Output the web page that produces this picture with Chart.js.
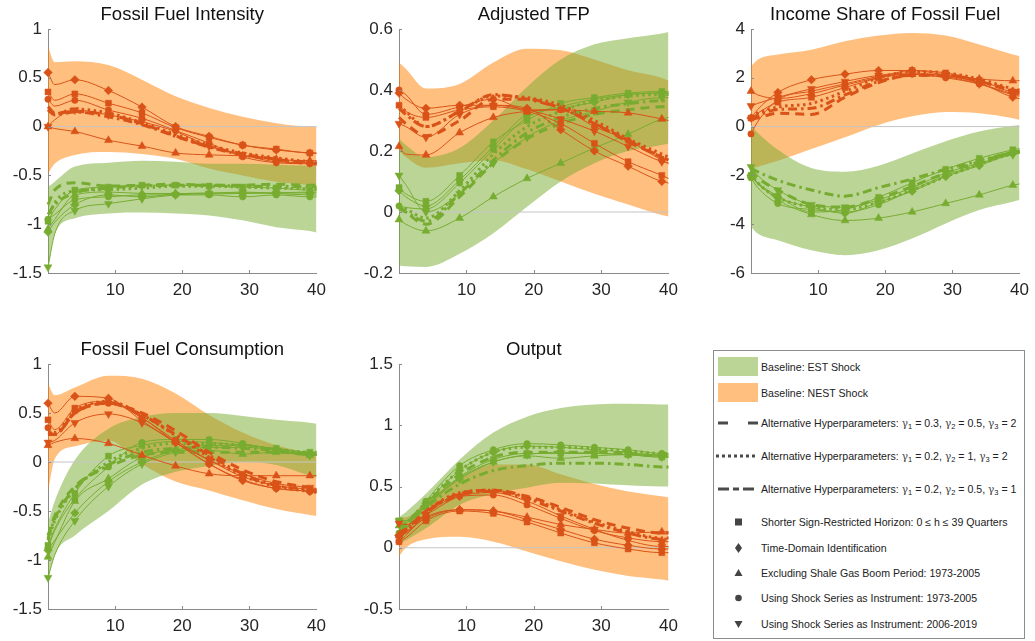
<!DOCTYPE html>
<html>
<head>
<meta charset="utf-8">
<script src="https://cdn.jsdelivr.net/npm/chart.js@4.4.0/dist/chart.umd.min.js"></script>
<style>
  html, body { margin: 0; padding: 0; background: #fff; overflow: hidden; }
  body { width: 1035px; height: 641px; position: relative; font-family: "Liberation Sans", Arial, Helvetica, sans-serif; }
  .panel { position: absolute; }
  #legend { position: absolute; left: 713px; top: 350px; width: 310px; height: 287px; border: 1px solid #8c8c8c; background: #fff; }
  #legend svg { position: absolute; left: 0; top: 0; }
  #legend span { position: absolute; left: 47px; font-size: 10.6px; line-height: 14px; color: #222; white-space: nowrap; }
  #legend sub { font-size: 7.5px; vertical-align: -2px; line-height: 0; }
  #legend i { font-style: normal; font-family: "DejaVu Serif", serif; font-size: 10.5px; color: #444; }
</style>
</head>
<body>

<div class="panel" id="p0"><canvas id="c0"></canvas></div>
<div class="panel" id="p1"><canvas id="c1"></canvas></div>
<div class="panel" id="p2"><canvas id="c2"></canvas></div>
<div class="panel" id="p3"><canvas id="c3"></canvas></div>
<div class="panel" id="p4"><canvas id="c4"></canvas></div>

<div id="legend">
  <svg width="310" height="287">
    <rect x="4" y="6" width="40" height="19" fill="rgba(119,172,48,0.5)"/>
    <rect x="4" y="32" width="40" height="19" fill="rgba(255,127,0,0.5)"/>
    <line x1="4" y1="72" x2="44" y2="72" stroke="#4a4a4a" stroke-width="3" stroke-dasharray="10 20"/>
    <line x1="2" y1="105" x2="44" y2="105" stroke="#4a4a4a" stroke-width="3" stroke-dasharray="3 3"/>
    <line x1="4" y1="138" x2="44" y2="138" stroke="#4a4a4a" stroke-width="3" stroke-dasharray="11 4 6 4"/>
    <rect x="21" y="167.5" width="7" height="7" fill="#444"/>
    <polygon points="24.5,192 28,197 24.5,202 21,197" fill="#444"/>
    <polygon points="24.5,218 28.5,225 20.5,225" fill="#444"/>
    <circle cx="24.5" cy="247" r="3.3" fill="#444"/>
    <polygon points="20.5,270 28.5,270 24.5,277" fill="#444"/>
  </svg>
  <span style="top:9px">Baseline: EST Shock</span>
  <span style="top:35px">Baseline: NEST Shock</span>
  <span style="top:65px">Alternative Hyperparameters: <i>γ</i><sub>1</sub> = 0.3, <i>γ</i><sub>2</sub> = 0.5, <i>γ</i><sub>3</sub> = 2</span>
  <span style="top:98px">Alternative Hyperparameters: <i>γ</i><sub>1</sub> = 0.2, <i>γ</i><sub>2</sub> = 1, <i>γ</i><sub>3</sub> = 2</span>
  <span style="top:131px">Alternative Hyperparameters: <i>γ</i><sub>1</sub> = 0.2, <i>γ</i><sub>2</sub> = 0.5, <i>γ</i><sub>3</sub> = 1</span>
  <span style="top:164px">Shorter Sign-Restricted Horizon: 0 ≤ h ≤ 39 Quarters</span>
  <span style="top:190px">Time-Domain Identification</span>
  <span style="top:215px">Excluding Shale Gas Boom Period: 1973-2005</span>
  <span style="top:240px">Using Shock Series as Instrument: 1973-2005</span>
  <span style="top:266px">Using Shock Series as Instrument: 2006-2019</span>
</div>

<script>
// horizons (quarters) where values were read; markers sit on every one but 1 and 40
var XS = [0, 1, 4, 9, 14, 19, 24, 29, 34, 39, 40];
var MARKER_X = [0, 4, 9, 14, 19, 24, 29, 34, 39];

var TITLES = ['Fossil Fuel Intensity', 'Adjusted TFP', 'Income Share of Fossil Fuel', 'Fossil Fuel Consumption', 'Output'];
var Y_MIN = [-1.5, -0.2, -6, -1.5, -0.5];
var Y_MAX = [1, 0.6, 4, 1, 1.5];
var Y_STEP = [0.5, 0.2, 2, 0.5, 0.5];
var X_TICKS = [10, 20, 30, 40];

// line order in every panel: dashed, dotted, dash-dot, square, diamond, triangle, circle, triangle-down

// Fossil Fuel Intensity
var intensityNestBand = [
  [-0.48, -0.38, -0.29, -0.26, -0.28, -0.33, -0.43, -0.50, -0.565, -0.60, -0.61],
  [0.82, 0.66, 0.67, 0.63, 0.48, 0.31, 0.19, 0.10, 0.035, 0.0, 0.0]
];
var intensityEstBand = [
  [-1.44, -1.10, -0.94, -0.89, -0.88, -0.89, -0.91, -0.96, -1.03, -1.07, -1.085],
  [-0.62, -0.565, -0.41, -0.37, -0.35, -0.36, -0.38, -0.38, -0.39, -0.40, -0.40]
];
var intensityNest = [
  [0.205, 0.14, 0.155, 0.12, 0.03, -0.095, -0.205, -0.28, -0.335, -0.375, -0.38],
  [0.18, 0.13, 0.18, 0.14, 0.04, -0.08, -0.19, -0.27, -0.32, -0.36, -0.365],
  [0.17, 0.12, 0.15, 0.10, 0.02, -0.10, -0.21, -0.29, -0.34, -0.38, -0.385],
  [0.355, 0.27, 0.335, 0.24, 0.14, -0.01, -0.11, -0.19, -0.23, -0.27, -0.27],
  [0.555, 0.43, 0.48, 0.37, 0.20, 0.0, -0.10, -0.19, -0.24, -0.27, -0.275],
  [0.0, -0.02, -0.05, -0.14, -0.20, -0.27, -0.29, -0.30, -0.335, -0.35, -0.35],
  [0.28, 0.21, 0.27, 0.17, 0.085, -0.04, -0.17, -0.31, -0.37, -0.38, -0.38],
  [0.0, 0.07, 0.17, 0.12, 0.05, -0.05, -0.20, -0.29, -0.36, -0.37, -0.37]
];
var intensityEst = [
  [-0.80, -0.65, -0.575, -0.61, -0.60, -0.59, -0.60, -0.60, -0.59, -0.60, -0.60],
  [-0.95, -0.78, -0.66, -0.645, -0.63, -0.61, -0.61, -0.62, -0.63, -0.64, -0.645],
  [-0.90, -0.80, -0.68, -0.63, -0.61, -0.60, -0.60, -0.61, -0.61, -0.62, -0.62],
  [-0.97, -0.85, -0.65, -0.62, -0.60, -0.60, -0.61, -0.62, -0.63, -0.65, -0.65],
  [-1.08, -0.98, -0.80, -0.70, -0.72, -0.69, -0.68, -0.68, -0.68, -0.68, -0.68],
  [-1.05, -0.95, -0.70, -0.67, -0.685, -0.685, -0.69, -0.685, -0.68, -0.67, -0.67],
  [-0.95, -0.90, -0.75, -0.72, -0.70, -0.70, -0.70, -0.72, -0.70, -0.72, -0.72],
  [-1.44, -1.10, -0.86, -0.79, -0.74, -0.70, -0.685, -0.67, -0.685, -0.70, -0.70]
];

// Adjusted TFP
var tfpNestBand = [
  [0.20, 0.18, 0.145, 0.16, 0.17, 0.14, 0.10, 0.06, 0.025, -0.01, -0.015],
  [0.49, 0.47, 0.405, 0.42, 0.49, 0.535, 0.53, 0.50, 0.465, 0.44, 0.43]
];
var tfpEstBand = [
  [-0.175, -0.178, -0.18, -0.137, -0.07, 0.017, 0.10, 0.16, 0.20, 0.22, 0.225],
  [0.24, 0.22, 0.18, 0.21, 0.30, 0.41, 0.50, 0.55, 0.57, 0.585, 0.59]
];
var tfpNest = [
  [0.31, 0.29, 0.25, 0.30, 0.37, 0.37, 0.34, 0.29, 0.23, 0.18, 0.17],
  [0.35, 0.33, 0.28, 0.33, 0.38, 0.375, 0.35, 0.30, 0.24, 0.19, 0.18],
  [0.34, 0.32, 0.28, 0.33, 0.385, 0.37, 0.34, 0.29, 0.235, 0.18, 0.17],
  [0.35, 0.33, 0.31, 0.335, 0.345, 0.33, 0.29, 0.225, 0.165, 0.12, 0.11],
  [0.39, 0.37, 0.34, 0.35, 0.35, 0.34, 0.27, 0.20, 0.15, 0.10, 0.095],
  [0.215, 0.19, 0.187, 0.26, 0.31, 0.33, 0.335, 0.33, 0.325, 0.305, 0.30],
  [0.40, 0.385, 0.32, 0.345, 0.37, 0.335, 0.335, 0.28, 0.235, 0.17, 0.16],
  [0.29, 0.28, 0.245, 0.32, 0.35, 0.335, 0.305, 0.265, 0.215, 0.165, 0.16]
];
var tfpEst = [
  [0.02, 0.0, -0.04, 0.05, 0.16, 0.24, 0.29, 0.32, 0.335, 0.345, 0.345],
  [0.02, 0.01, -0.02, 0.07, 0.19, 0.28, 0.33, 0.365, 0.38, 0.385, 0.385],
  [0.01, 0.0, -0.03, 0.06, 0.17, 0.26, 0.31, 0.34, 0.355, 0.365, 0.365],
  [0.08, 0.06, 0.035, 0.12, 0.23, 0.30, 0.356, 0.375, 0.39, 0.395, 0.395],
  [0.07, 0.05, 0.02, 0.105, 0.215, 0.32, 0.34, 0.36, 0.385, 0.39, 0.39],
  [-0.025, -0.04, -0.062, -0.02, 0.05, 0.11, 0.16, 0.21, 0.255, 0.305, 0.31],
  [0.02, 0.015, 0.01, 0.095, 0.205, 0.31, 0.345, 0.37, 0.385, 0.39, 0.39],
  [0.12, 0.09, 0.0, 0.06, 0.16, 0.245, 0.30, 0.33, 0.36, 0.375, 0.375]
];

// Income Share of Fossil Fuel
var shareNestBand = [
  [-1.75, -1.65, -1.4, -0.92, -0.44, 0.07, 0.42, 0.6, 0.55, 0.34, 0.27],
  [2.47, 2.74, 2.95, 3.15, 3.5, 3.73, 3.84, 3.73, 3.36, 2.95, 2.88]
];
var shareEstBand = [
  [-4.1, -4.38, -4.66, -5.07, -5.27, -5.07, -4.59, -3.97, -3.42, -3.08, -3.01],
  [0.05, -0.25, -0.95, -1.7, -1.85, -1.6, -1.1, -0.6, -0.2, 0.03, 0.07]
];
var shareNest = [
  [0.3, 0.35, 0.55, 0.5, 1.2, 1.8, 2.1, 2.1, 1.85, 1.5, 1.45],
  [0.4, 0.55, 0.8, 0.95, 1.45, 2.0, 2.25, 2.2, 1.95, 1.55, 1.5],
  [0.3, 0.45, 0.7, 0.75, 1.3, 1.85, 2.1, 2.1, 1.85, 1.45, 1.4],
  [0.35, 0.55, 1.0, 1.2, 1.6, 2.0, 2.3, 2.2, 1.9, 1.4, 1.35],
  [0.35, 0.7, 1.4, 1.92, 2.15, 2.3, 2.3, 2.1, 1.8, 1.2, 1.15],
  [1.45, 1.3, 1.15, 1.35, 1.7, 2.0, 2.15, 2.1, 1.95, 1.88, 1.88],
  [-0.3, 0.2, 1.1, 1.45, 1.75, 2.05, 2.15, 2.0, 1.75, 1.35, 1.3],
  [0.85, 0.95, 1.2, 1.55, 1.85, 2.1, 2.2, 2.05, 1.75, 1.3, 1.25]
];
var shareEst = [
  [-1.8, -2.1, -2.6, -3.2, -3.3, -2.95, -2.45, -1.9, -1.45, -1.05, -1.0],
  [-1.9, -2.3, -2.9, -3.3, -3.4, -3.1, -2.6, -2.05, -1.55, -1.1, -1.05],
  [-1.7, -1.85, -2.2, -2.6, -2.85, -2.5, -2.15, -1.75, -1.4, -1.05, -1.0],
  [-2.0, -2.3, -2.85, -3.5, -3.4, -2.9, -2.3, -1.75, -1.3, -0.95, -0.9],
  [-2.0, -2.35, -2.9, -3.3, -3.55, -3.1, -2.65, -2.05, -1.6, -1.1, -1.05],
  [-2.0, -2.3, -3.0, -3.6, -3.85, -3.75, -3.5, -3.15, -2.8, -2.4, -2.35],
  [-2.1, -2.5, -3.15, -3.4, -3.5, -3.2, -2.6, -2.0, -1.55, -1.05, -1.0],
  [-1.65, -2.0, -2.6, -3.2, -3.3, -3.0, -2.5, -1.9, -1.5, -1.15, -1.1]
];

// Fossil Fuel Consumption
var consNestBand = [
  [-0.3, 0.03, 0.16, 0.22, -0.02, -0.2, -0.29, -0.39, -0.48, -0.54, -0.55],
  [0.8, 0.68, 0.76, 0.88, 0.85, 0.7, 0.48, 0.3, 0.17, 0.09, 0.08]
];
var consEstBand = [
  [-1.2, -0.95, -0.75, -0.5, -0.23, -0.1, -0.04, 0.0, -0.03, -0.14, -0.16],
  [-0.62, -0.4, 0.02, 0.34, 0.46, 0.5, 0.5, 0.47, 0.43, 0.4, 0.39]
];
var consNest = [
  [0.28, 0.28, 0.5, 0.6, 0.5, 0.32, 0.1, -0.08, -0.2, -0.26, -0.27],
  [0.3, 0.3, 0.52, 0.62, 0.48, 0.27, 0.05, -0.14, -0.25, -0.3, -0.31],
  [0.3, 0.28, 0.5, 0.6, 0.48, 0.28, 0.07, -0.12, -0.24, -0.28, -0.29],
  [0.43, 0.33, 0.55, 0.62, 0.45, 0.22, 0.02, -0.15, -0.24, -0.28, -0.29],
  [0.6, 0.5, 0.67, 0.65, 0.42, 0.2, -0.02, -0.19, -0.27, -0.3, -0.31],
  [0.17, 0.2, 0.24, 0.19, 0.07, -0.04, -0.12, -0.14, -0.14, -0.14, -0.14],
  [0.35, 0.28, 0.52, 0.6, 0.45, 0.2, -0.02, -0.18, -0.27, -0.3, -0.31],
  [0.2, 0.22, 0.4, 0.49, 0.4, 0.2, 0.02, -0.12, -0.22, -0.26, -0.27]
];
var consEst = [
  [-0.75, -0.55, -0.25, -0.05, 0.07, 0.1, 0.1, 0.1, 0.1, 0.08, 0.08],
  [-0.8, -0.6, -0.28, 0.0, 0.14, 0.19, 0.19, 0.17, 0.13, 0.1, 0.1],
  [-0.78, -0.58, -0.27, -0.03, 0.1, 0.14, 0.15, 0.14, 0.12, 0.09, 0.09],
  [-0.85, -0.68, -0.32, 0.06, 0.17, 0.21, 0.2, 0.17, 0.14, 0.1, 0.1],
  [-0.9, -0.8, -0.52, -0.2, 0.0, 0.12, 0.17, 0.17, 0.13, 0.07, 0.07],
  [-0.97, -0.82, -0.4, -0.17, 0.05, 0.12, 0.12, 0.08, 0.1, 0.07, 0.07],
  [-0.88, -0.7, -0.38, -0.05, 0.2, 0.23, 0.23, 0.19, 0.12, 0.08, 0.08],
  [-1.18, -0.95, -0.6, -0.25, -0.02, 0.1, 0.15, 0.15, 0.12, 0.07, 0.07]
];

// Output
var outNestBand = [
  [-0.07, 0.0, 0.07, 0.09, 0.05, -0.03, -0.11, -0.18, -0.23, -0.26, -0.27],
  [0.25, 0.25, 0.38, 0.57, 0.68, 0.68, 0.6, 0.52, 0.46, 0.42, 0.41]
];
var outEstBand = [
  [0.03, 0.06, 0.16, 0.35, 0.44, 0.49, 0.53, 0.525, 0.51, 0.5, 0.5],
  [0.25, 0.29, 0.44, 0.72, 0.94, 1.07, 1.14, 1.17, 1.175, 1.17, 1.17]
];
var outNest = [
  [0.13, 0.15, 0.3, 0.44, 0.47, 0.42, 0.33, 0.23, 0.16, 0.12, 0.12],
  [0.12, 0.15, 0.3, 0.45, 0.47, 0.41, 0.31, 0.21, 0.13, 0.08, 0.08],
  [0.1, 0.13, 0.29, 0.43, 0.46, 0.4, 0.3, 0.2, 0.12, 0.07, 0.07],
  [0.05, 0.08, 0.22, 0.3, 0.28, 0.21, 0.12, 0.04, -0.01, -0.04, -0.04],
  [0.1, 0.12, 0.25, 0.31, 0.3, 0.23, 0.15, 0.07, 0.02, -0.01, -0.01],
  [0.1, 0.13, 0.24, 0.31, 0.3, 0.25, 0.19, 0.15, 0.12, 0.13, 0.13],
  [0.05, 0.1, 0.27, 0.42, 0.43, 0.35, 0.24, 0.14, 0.08, 0.05, 0.05],
  [0.2, 0.19, 0.27, 0.42, 0.45, 0.38, 0.26, 0.15, 0.06, 0.01, 0.01]
];
var outEst = [
  [0.16, 0.2, 0.36, 0.6, 0.74, 0.78, 0.78, 0.78, 0.77, 0.75, 0.75],
  [0.16, 0.2, 0.37, 0.63, 0.78, 0.82, 0.82, 0.81, 0.79, 0.77, 0.77],
  [0.15, 0.18, 0.33, 0.52, 0.63, 0.67, 0.69, 0.69, 0.68, 0.66, 0.66],
  [0.22, 0.22, 0.35, 0.58, 0.72, 0.77, 0.77, 0.77, 0.76, 0.74, 0.74],
  [0.1, 0.15, 0.36, 0.63, 0.78, 0.83, 0.82, 0.8, 0.78, 0.75, 0.75],
  [0.18, 0.2, 0.33, 0.57, 0.7, 0.75, 0.73, 0.75, 0.76, 0.76, 0.76],
  [0.12, 0.16, 0.38, 0.67, 0.8, 0.85, 0.84, 0.82, 0.8, 0.77, 0.77],
  [0.22, 0.22, 0.35, 0.56, 0.7, 0.76, 0.78, 0.77, 0.76, 0.74, 0.74]
];

var PANEL_DATA = [
  [intensityNestBand, intensityEstBand, intensityNest, intensityEst],
  [tfpNestBand, tfpEstBand, tfpNest, tfpEst],
  [shareNestBand, shareEstBand, shareNest, shareEst],
  [consNestBand, consEstBand, consNest, consEst],
  [outNestBand, outEstBand, outNest, outEst]
];

// plot area of each panel on the page (left, right, top, bottom)
var BOXES = [
  [48, 321, 29, 273],
  [399, 673, 29, 273],
  [751, 1024, 29, 273],
  [48, 321, 364, 609],
  [399, 673, 364, 609]
];

var ORANGE = '#d95319';
var GREEN = '#77ac30';
var ORANGE_FILL = 'rgba(255,127,0,0.5)';
var GREEN_FILL = 'rgba(119,172,48,0.5)';
var AXIS = '#8a8a8a';
var FONT = '"Liberation Sans", Arial, Helvetica, sans-serif';

var DASHES = [[9, 6], [2.5, 3.5], [9, 4, 2.5, 4]];
var MARKERS = ['rect', 'rectRot', 'triangle', 'circle', 'triangle'];
var MARKER_SIZE = [4.2, 4.3, 4.6, 3.2, 4.6];
var MARKER_ROT = [0, 0, 0, 0, 180];

function pts(arr) {
  return arr.map(function(y, i) { return {x: XS[i], y: y}; });
}

function bandSets(band, fillColor, order) {
  return [
    { data: pts(band[0]), borderWidth: 0, borderColor: 'transparent', pointRadius: 0, fill: false, order: order },
    { data: pts(band[1]), borderWidth: 0, borderColor: 'transparent', pointRadius: 0, fill: '-1', backgroundColor: fillColor, order: order }
  ];
}

function lineSets(lines, color, order) {
  return lines.map(function(vals, k) {
    if (k < 3) {
      return {
        data: pts(vals), borderColor: color, borderWidth: 3, borderDash: DASHES[k],
        borderCapStyle: 'butt', pointRadius: 0, fill: false, order: order
      };
    }
    var m = k - 3;
    return {
      data: pts(vals), borderColor: color, borderWidth: 1, fill: false, order: order,
      pointStyle: MARKERS[m], pointRotation: MARKER_ROT[m],
      pointBackgroundColor: color, pointBorderColor: color, pointBorderWidth: 0.5,
      pointRadius: function(ctx) {
        return MARKER_X.indexOf(XS[ctx.dataIndex]) >= 0 ? MARKER_SIZE[m] : 0;
      }
    };
  });
}

function titlePlugin(text) {
  return {
    id: 'panelTitle',
    afterDraw: function(chart) {
      var a = chart.chartArea, ctx = chart.ctx;
      ctx.save();
      ctx.font = '18.5px ' + FONT;
      ctx.fillStyle = '#111';
      ctx.textAlign = 'center';
      ctx.textBaseline = 'middle';
      ctx.fillText(text, (a.left + a.right) / 2, a.top - 14);
      ctx.restore();
    }
  };
}

// small inward tick marks, as on the original axes
var innerTicks = {
  id: 'innerTicks',
  afterDraw: function(chart) {
    var a = chart.chartArea, ctx = chart.ctx;
    var xs = chart.scales.x, ys = chart.scales.y;
    ctx.save();
    ctx.strokeStyle = AXIS;
    ctx.lineWidth = 1;
    ctx.beginPath();
    [10, 20, 30].forEach(function(v) {
      var px = Math.round(xs.getPixelForValue(v)) + 0.5;
      ctx.moveTo(px, a.bottom);
      ctx.lineTo(px, a.bottom - 3);
    });
    ys.ticks.forEach(function(t) {
      var py = Math.round(ys.getPixelForValue(t.value)) + 0.5;
      ctx.moveTo(a.left, py);
      ctx.lineTo(a.left + 3, py);
    });
    ctx.stroke();
    ctx.restore();
  }
};

// MATLAB-style labels: 1 not 1.0, -0.5 not -0.50
function fmtTick(v) {
  return String(parseFloat(Number(v).toFixed(2)));
}

for (var i = 0; i < 5; i++) {
  var b = BOXES[i];
  var padL = 48, padT = 30, padR = 12, padB = 32;
  var wrap = document.getElementById('p' + i);
  var canvas = document.getElementById('c' + i);
  var w = b[1] - b[0] + padL + padR;
  var h = b[3] - b[2] + padT + padB;
  wrap.style.left = (b[0] - padL) + 'px';
  wrap.style.top = (b[2] - padT) + 'px';
  canvas.width = w;
  canvas.height = h;
  canvas.style.width = w + 'px';
  canvas.style.height = h + 'px';

  var d = PANEL_DATA[i];
  var datasets = []
    .concat(bandSets(d[0], ORANGE_FILL, 100))
    .concat(bandSets(d[1], GREEN_FILL, 90))
    .concat([{ data: [{x: 0, y: 0}, {x: 40, y: 0}], borderColor: '#c4c4c4', borderWidth: 1, pointRadius: 0, fill: false, order: 80 }])
    .concat(lineSets(d[3], GREEN, 20))
    .concat(lineSets(d[2], ORANGE, 10));

  new Chart(canvas, {
    type: 'line',
    data: { datasets: datasets },
    options: {
      responsive: false,
      animation: false,
      events: [],
      devicePixelRatio: 1,
      layout: { padding: { top: padT, right: padR, left: 0, bottom: 0 } },
      datasets: { line: { cubicInterpolationMode: 'monotone', clip: false } },
      plugins: { legend: { display: false }, tooltip: { enabled: false } },
      scales: {
        x: {
          type: 'linear', min: 0, max: 40,
          afterFit: function(s) { s.height = padB; },
          afterBuildTicks: function(s) { s.ticks = X_TICKS.map(function(v) { return {value: v}; }); },
          ticks: { padding: 7, maxRotation: 0, autoSkip: false, color: '#262626', font: { family: FONT, size: 17 }, callback: fmtTick },
          grid: { display: true, drawOnChartArea: false, drawTicks: false },
          border: { color: AXIS, width: 1 }
        },
        y: {
          min: Y_MIN[i], max: Y_MAX[i],
          afterFit: function(s) { s.width = padL; },
          ticks: { stepSize: Y_STEP[i], padding: 6, color: '#262626', font: { family: FONT, size: 17 }, callback: fmtTick },
          grid: { display: true, drawOnChartArea: false, drawTicks: false },
          border: { color: AXIS, width: 1 }
        }
      }
    },
    plugins: [titlePlugin(TITLES[i]), innerTicks]
  });
}
</script>
</body>
</html>
